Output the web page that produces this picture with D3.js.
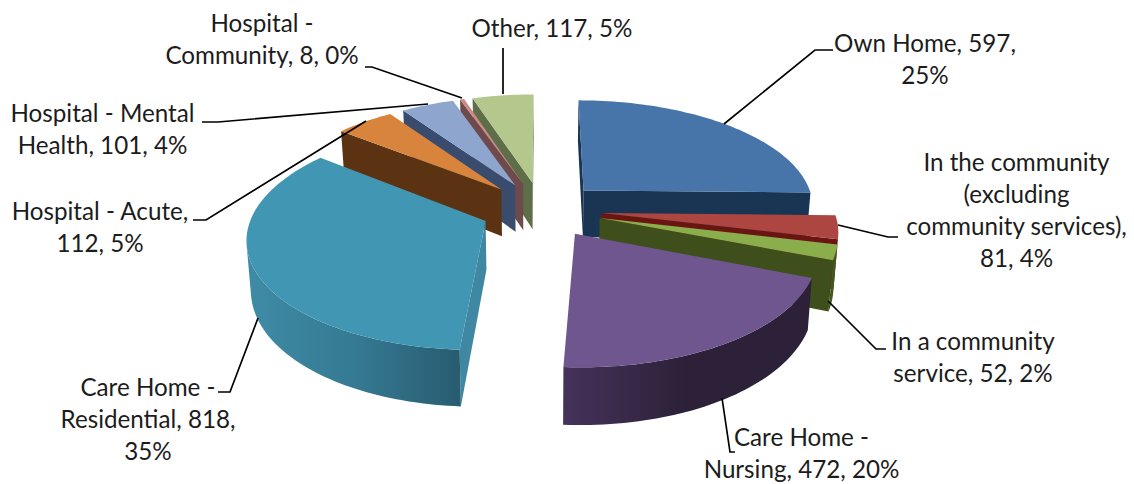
<!DOCTYPE html>
<html><head><meta charset="utf-8">
<script src="https://cdn.jsdelivr.net/npm/d3@7/dist/d3.min.js"></script>
<style>html,body{margin:0;background:#fff}svg{display:block}text{font-family:Lato,"Open Sans",sans-serif;font-size:24.2px;fill:#1c1c1c}</style>
</head><body><svg id="c" width="1134" height="484"></svg>
<script>
const categories=["Own Home","In the community (excluding community services)","In a community service","Care Home - Nursing","Care Home - Residential","Hospital - Acute","Hospital - Mental Health","Hospital - Community","Other"];
const values=[597,81,52,472,818,112,101,8,117];
const topColors=["#4775a9","#ad4640","#8aae4c","#70568e","#4197b3","#d9843c","#8ea5cd","#c98a88","#b4c78c"];
const wallStops=[["#1a3553","#1a3553"],["#6b1512","#6b1512"],["#42581f","#42581f"],["#45325a","#2c2138","#2c2138"],["#3f8ba6","#357a93","#285c70"],["#5b3312","#5b3312"],["#3a4c6e","#3a4c6e"],["#6e4a4c","#6e4a4c"],["#5d6e48","#5d6e48"]];
const cutColors=["#1a3553","#6b1512","#3e4f1c","#2b2138","#3f87a3","#5b3312","#3a4c6e","#6e4a4c","#5d6e48"];
const labelLines=[["Own Home, 597,","25%"],["In the community","(excluding","community services),","81, 4%"],["In a community","service, 52, 2%"],["Care Home -","Nursing, 472, 20%"],["Care Home -","Residential, 818,","35%"],["Hospital - Acute,","112, 5%"],["Hospital - Mental","Health, 101, 4%"],["Hospital -","Community, 8, 0%"],["Other, 117, 5%"]];
const labelAnchor=[[925,52],[1016.5,171],[973,350],[801.5,446],[148,396],[100,220],[102.5,122],[262,32],[552,37]];
const lineHeight=32;
const leaders=[[[724,124],[815,50],[833,50]],[[838,225],[888,237],[898,237]],[[828,301],[876,349],[886,349]],[[722,398],[730,452],[735,452]],[[258,318],[230,392],[218,392]],[[366,121],[206,220],[193,220]],[[428,104],[218,122],[202,122]],[[462,98],[372,67],[365,67]],[[503,94],[503,48]]];

const cam={cx:541.5,cy:209.5,fx:232,fy:107.5,fz:48,p:0.139,explode:0.26,taper:0.015};
function project(X,Y,Z){const w=1+cam.p*Y;const k=1-cam.taper*Z;
  return [cam.cx+cam.fx*X/w*k, cam.cy-cam.fy*Y/w+cam.fz*Z/w];}
const area=q=>d3.polygonArea(q);
const svg=d3.select("#c");
const defs=svg.append("defs");
const poly=d3.line().curve(d3.curveLinearClosed);
const arcs=d3.pie().sort(null)(values);
const order=[8,7,6,5,4,0,1,2,3];
order.forEach(i=>{
  const a=arcs[i],mid=(a.startAngle+a.endAngle)/2;
  const ox=cam.explode*Math.sin(mid),oy=cam.explode*Math.cos(mid);
  const pt=(t,Z)=>project(ox+Math.sin(t),oy+Math.cos(t),Z);
  const apex=Z=>project(ox,oy,Z);
  const g=svg.append("g");
  const n=Math.max(2,Math.ceil((a.endAngle-a.startAngle)*40));
  const ts=d3.range(n+1).map(k=>a.startAngle+(a.endAngle-a.startAngle)*k/n);
  const face=(q,c)=>{ if(area(q)<0) g.append("path").attr("d",poly(q)).attr("fill",c); };
  face([apex(0),pt(a.startAngle,0),pt(a.startAngle,1),apex(1)].reverse(),cutColors[i]);
  face([apex(0),pt(a.endAngle,0),pt(a.endAngle,1),apex(1)],cutColors[i]);
  const vis=[];
  for(let k=0;k<n;k++){const q=[pt(ts[k],0),pt(ts[k+1],0),pt(ts[k+1],1),pt(ts[k],1)]; if(area(q)>0){vis.push(ts[k]);vis.push(ts[k+1]);}}
  if(vis.length){
    const t0=d3.min(vis),t1=d3.max(vis);
    const tv=ts.filter(t=>t>=t0&&t<=t1);
    const wall=[...tv.map(t=>pt(t,0)),...tv.slice().reverse().map(t=>pt(t,1))];
    const xs=d3.extent(wall,p=>p[0]);
    const id="wall"+i;
    const grad=defs.append("linearGradient").attr("id",id).attr("gradientUnits","userSpaceOnUse")
      .attr("x1",xs[0]).attr("x2",xs[1]).attr("y1",0).attr("y2",0);
    const stops=wallStops[i];
    stops.forEach((c,k)=>grad.append("stop").attr("offset",k/(stops.length-1)).attr("stop-color",c));
    g.append("path").attr("d",poly(wall)).attr("fill",`url(#${id})`);
  }
  g.append("path").attr("d",poly([apex(0),...ts.map(t=>pt(t,0))])).attr("fill",topColors[i]);
});
const leader=d3.line();
leaders.forEach(l=>svg.append("path").attr("d",leader(l)).attr("fill","none").attr("stroke","#000").attr("stroke-width",1.7));
labelLines.forEach((ls,i)=>{
  const t=svg.append("text").attr("text-anchor","middle");
  ls.forEach((s,j)=>t.append("tspan").attr("x",labelAnchor[i][0]).attr("y",labelAnchor[i][1]+j*lineHeight).text(s));
});
</script></body></html>
